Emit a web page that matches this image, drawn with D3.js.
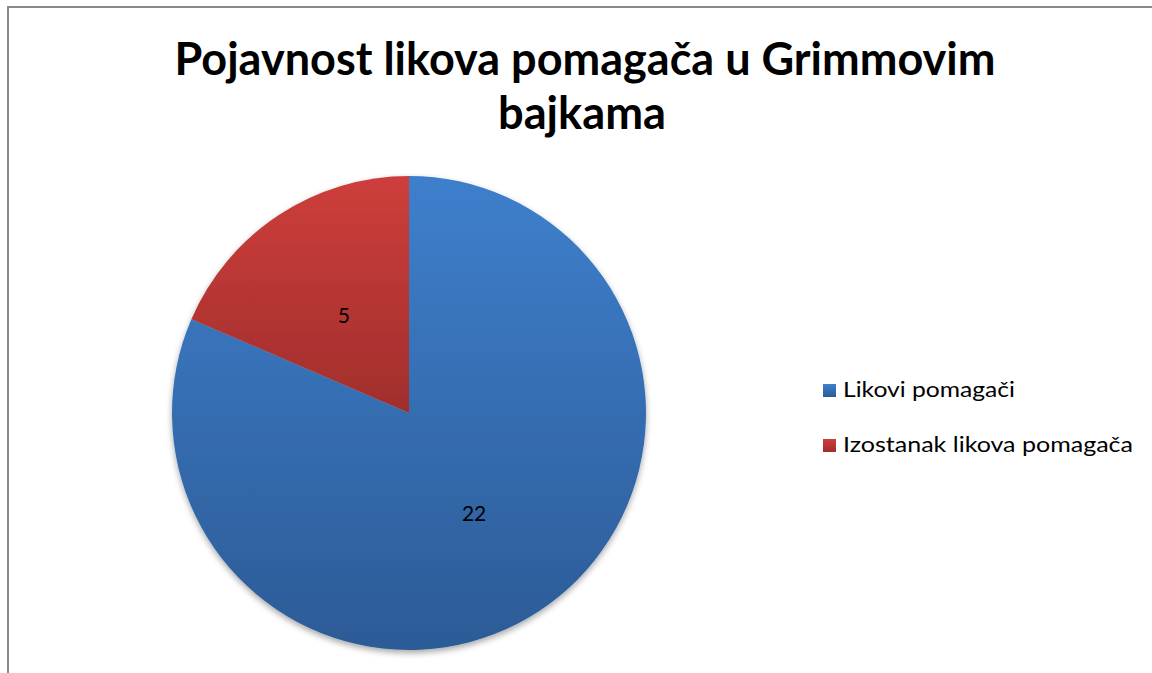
<!DOCTYPE html>
<html><head><meta charset="utf-8">
<script src="https://cdn.jsdelivr.net/npm/d3@7"></script>
<style>html,body{margin:0;padding:0;background:#fff;overflow:hidden}</style>
</head><body>
<svg id="chart" width="1152" height="673"></svg>
<script>
const titleLines = ["Pojavnost likova pomagača u Grimmovim", "bajkama"];
const categories = ["Likovi pomagači", "Izostanak likova pomagača"];
const values = [22, 5];
const topColors = ["#3e7fcc", "#ce3e3b"];
const bottomColors = ["#2c5b96", "#a02e2c"];

const svg = d3.select("#chart");
const defs = svg.append("defs");
categories.forEach((c, i) => {
  const g = defs.append("linearGradient").attr("id", "grad" + i)
    .attr("x1", 0).attr("y1", 0).attr("x2", 0).attr("y2", 1);
  g.append("stop").attr("offset", "0%").attr("stop-color", topColors[i]);
  g.append("stop").attr("offset", "100%").attr("stop-color", bottomColors[i]);
});
const f = defs.append("filter").attr("id", "shadow")
  .attr("x", "-10%").attr("y", "-10%").attr("width", "120%").attr("height", "125%");
f.append("feDropShadow").attr("dx", 0).attr("dy", 3).attr("stdDeviation", 3)
  .attr("flood-color", "#000").attr("flood-opacity", 0.35);

// border
svg.append("rect").attr("x", 8).attr("y", 7).attr("width", 1300).attr("height", 900)
  .attr("fill", "none").attr("stroke", "#8a8a8a").attr("stroke-width", 2);

// title
const title = svg.append("text").attr("text-anchor", "middle")
  .attr("font-family", "Lato, 'Open Sans', sans-serif").attr("font-weight", "bold")
  .attr("font-size", 45).attr("fill", "#000");
title.append("tspan").attr("x", 585).attr("y", 75).text(titleLines[0])
  .attr("textLength", 821).attr("lengthAdjust", "spacingAndGlyphs");
title.append("tspan").attr("x", 582).attr("y", 129).text(titleLines[1])
  .attr("textLength", 168).attr("lengthAdjust", "spacingAndGlyphs");

// pie
const cx = 409, cy = 413, r = 237;
const pie = d3.pie().sort(null).value(d => d)(values);
const arc = d3.arc().innerRadius(0).outerRadius(r);
const labelArc = d3.arc().innerRadius(r * 0.5).outerRadius(r * 0.5);
const g = svg.append("g").attr("transform", `translate(${cx},${cy})`);
g.append("g").attr("filter", "url(#shadow)").selectAll("path").data(pie).join("path")
  .attr("d", arc).attr("fill", (d, i) => `url(#grad${i})`);
g.selectAll("text.lbl").data(pie).join("text").attr("class", "lbl")
  .attr("x", d => labelArc.centroid(d)[0])
  .attr("y", d => labelArc.centroid(d)[1])
  .attr("text-anchor", "middle").attr("dominant-baseline", "central")
  .attr("font-family", "Lato, 'Open Sans', sans-serif").attr("font-size", 21)
  .attr("fill", "#000").text(d => d.data);

// legend
const lx = 823, ly = [384, 439];
const leg = svg.append("g");
categories.forEach((c, i) => {
  leg.append("rect").attr("x", lx).attr("y", ly[i]).attr("width", 13).attr("height", 13)
    .attr("fill", `url(#grad${i})`);
  leg.append("text").attr("x", 843).attr("y", ly[i] + 13)
    .attr("font-family", "Lato, 'Open Sans', sans-serif").attr("font-size", 21)
    .attr("fill", "#000").text(c)
    .attr("textLength", i === 0 ? 172 : 290).attr("lengthAdjust", "spacingAndGlyphs");
});
</script>
</body></html>
